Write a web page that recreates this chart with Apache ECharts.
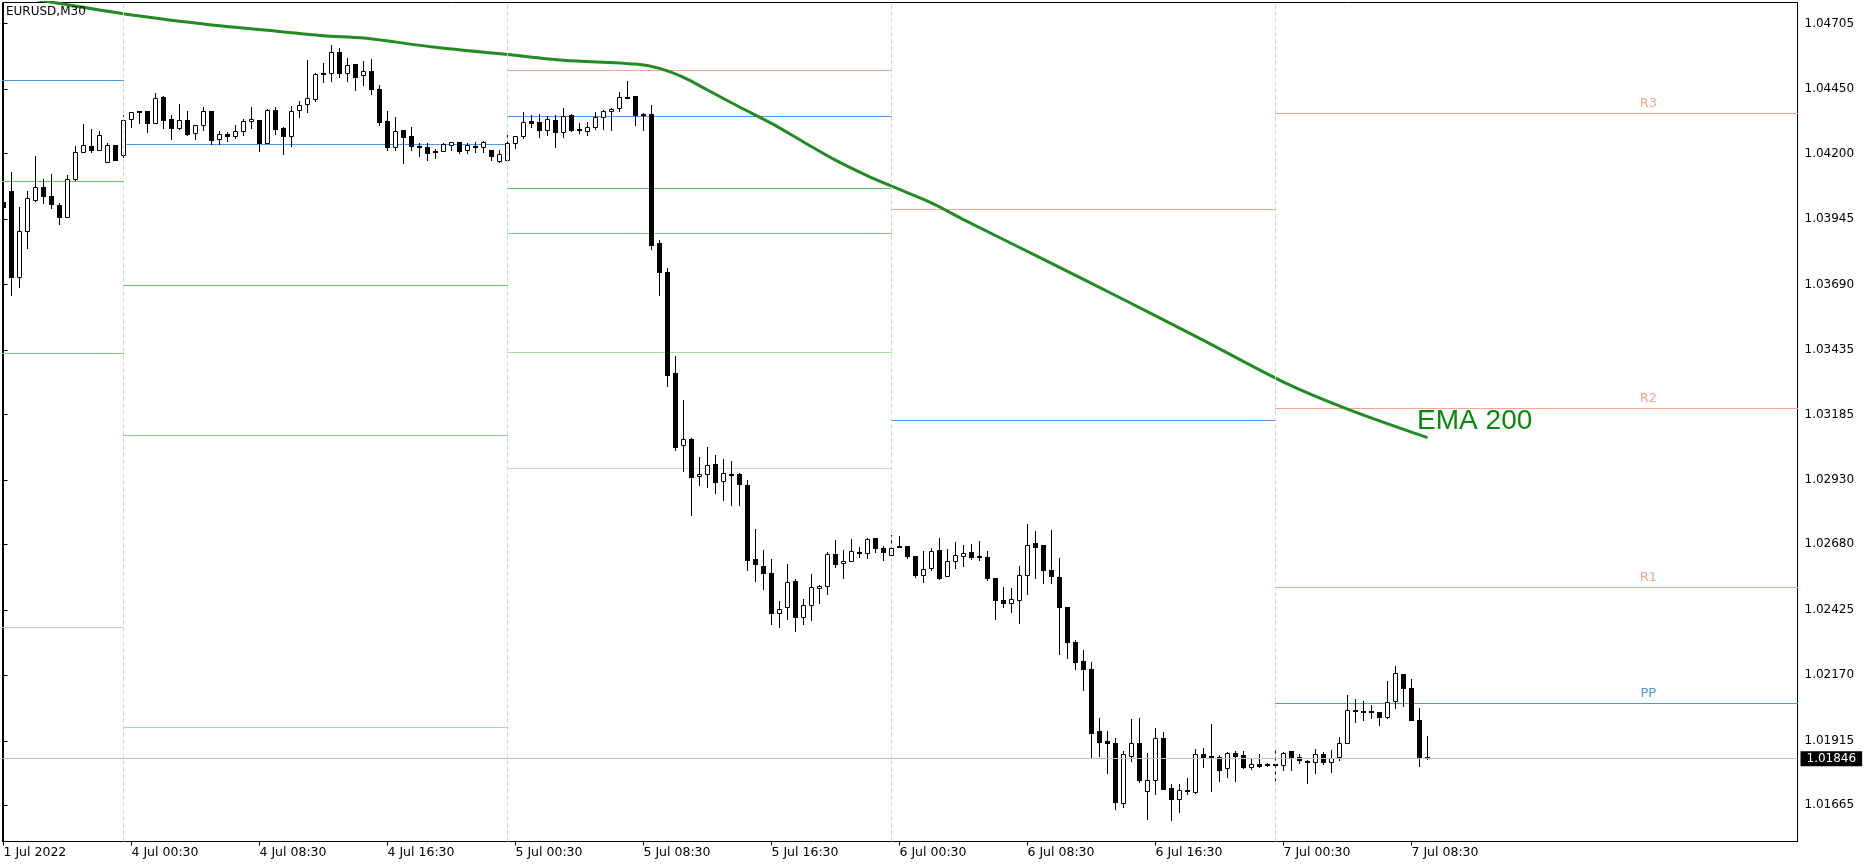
<!DOCTYPE html>
<html><head><meta charset="utf-8">
<script src="https://cdn.jsdelivr.net/npm/echarts@6/dist/echarts.min.js"></script>
<style>html,body{margin:0;padding:0;background:#fff;}#c{width:1870px;height:867px;}</style>
</head><body><div id="c"></div>
<script>
const symbolTitle = 'EURUSD,M30';
const axisTimeLabels = ['1 Jul 2022','4 Jul 00:30','4 Jul 08:30','4 Jul 16:30','5 Jul 00:30','5 Jul 08:30','5 Jul 16:30','6 Jul 00:30','6 Jul 08:30','6 Jul 16:30','7 Jul 00:30','7 Jul 08:30'];
const axisTimeBars = [0,16,32,48,64,80,96,112,128,144,160,176];
const priceTicks = [1.04705,1.04450,1.04200,1.03945,1.03690,1.03435,1.03185,1.02930,1.02680,1.02425,1.02170,1.01915,1.01665];

const openP = [1.04009,1.04052,1.03719,1.03895,1.04018,1.04067,1.04033,1.03998,1.03952,1.04098,
1.04205,1.04227,1.04211,1.04164,1.04230,1.04193,1.04331,1.04363,1.04363,1.04316,
1.04418,1.04332,1.04298,1.04328,1.04277,1.04308,1.04363,1.04253,1.04274,1.04267,
1.04284,1.04323,1.04327,1.04240,1.04367,1.04297,1.04267,1.04366,1.04390,1.04411,
1.04510,1.04510,1.04592,1.04512,1.04545,1.04502,1.04518,1.04448,1.04323,1.04222,
1.04288,1.04266,1.04228,1.04223,1.04207,1.04207,1.04230,1.04242,1.04211,1.04227,
1.04222,1.04211,1.04170,1.04174,1.04240,1.04265,1.04323,1.04320,1.04288,1.04327,
1.04281,1.04348,1.04293,1.04284,1.04300,1.04339,1.04362,1.04374,1.04417,1.04421,
1.04352,1.04352,1.03849,1.03736,1.03344,1.03063,1.03086,1.02942,1.02950,1.02989,
1.02923,1.02950,1.02950,1.02907,1.02620,1.02592,1.02565,1.02410,1.02433,1.02534,
1.02396,1.02441,1.02507,1.02515,1.02640,1.02604,1.02612,1.02647,1.02643,1.02701,
1.02662,1.02635,1.02671,1.02670,1.02631,1.02557,1.02585,1.02655,1.02553,1.02612,
1.02631,1.02647,1.02631,1.02627,1.02546,1.02460,1.02448,1.02460,1.02557,1.02682,
1.02674,1.02577,1.02550,1.02433,1.02297,1.02223,1.02193,1.01950,1.01913,1.01904,
1.01673,1.01856,1.01904,1.01717,1.01760,1.01923,1.01729,1.01688,1.01721,1.01715,
1.01861,1.01853,1.01850,1.01807,1.01865,1.01857,1.01813,1.01822,1.01822,1.01822,
1.01818,1.01873,1.01849,1.01834,1.01830,1.01861,1.01830,1.01849,1.01904,1.02032,
1.02029,1.02029,1.02024,1.02005,1.02067,1.02172,1.02118,1.01993,1.01849];
const highP = [1.04088,1.04126,1.03990,1.04052,1.04188,1.04099,1.04118,1.04006,1.04113,1.04227,
1.04313,1.04295,1.04287,1.04239,1.04230,1.04347,1.04358,1.04363,1.04363,1.04433,
1.04422,1.04348,1.04390,1.04363,1.04308,1.04378,1.04363,1.04286,1.04283,1.04308,
1.04332,1.04378,1.04327,1.04371,1.04378,1.04301,1.04383,1.04401,1.04562,1.04512,
1.04551,1.04620,1.04609,1.04570,1.04545,1.04558,1.04566,1.04465,1.04363,1.04340,
1.04288,1.04301,1.04238,1.04238,1.04217,1.04239,1.04242,1.04242,1.04238,1.04244,
1.04248,1.04211,1.04211,1.04269,1.04265,1.04360,1.04348,1.04351,1.04343,1.04348,
1.04375,1.04351,1.04316,1.04320,1.04358,1.04367,1.04374,1.04436,1.04480,1.04421,
1.04355,1.04387,1.03862,1.03752,1.03410,1.03239,1.03090,1.03016,1.03055,1.03024,
1.03009,1.03001,1.02954,1.02927,1.02736,1.02655,1.02620,1.02456,1.02600,1.02542,
1.02465,1.02562,1.02518,1.02647,1.02693,1.02655,1.02697,1.02666,1.02701,1.02701,
1.02670,1.02713,1.02709,1.02670,1.02631,1.02651,1.02662,1.02701,1.02658,1.02686,
1.02674,1.02678,1.02690,1.02651,1.02546,1.02511,1.02507,1.02592,1.02756,1.02728,
1.02674,1.02732,1.02623,1.02433,1.02304,1.02267,1.02220,1.02001,1.01952,1.01923,
1.01874,1.01999,1.02001,1.01865,1.01962,1.01947,1.01744,1.01744,1.01768,1.01880,
1.01884,1.01978,1.01859,1.01869,1.01873,1.01873,1.01845,1.01861,1.01826,1.01877,
1.01869,1.01873,1.01861,1.01838,1.01880,1.01869,1.01877,1.01927,1.02091,1.02075,
1.02068,1.02052,1.02024,1.02145,1.02203,1.02172,1.02153,1.02040,1.01931];
const lowP = [1.03950,1.03649,1.03678,1.03829,1.04015,1.04004,1.03987,1.03923,1.03952,1.04095,
1.04205,1.04204,1.04211,1.04164,1.04174,1.04183,1.04302,1.04318,1.04283,1.04316,
1.04298,1.04256,1.04295,1.04271,1.04256,1.04291,1.04235,1.04235,1.04248,1.04257,
1.04271,1.04296,1.04209,1.04240,1.04275,1.04197,1.04228,1.04341,1.04361,1.04404,
1.04476,1.04481,1.04497,1.04481,1.04446,1.04466,1.04431,1.04310,1.04213,1.04213,
1.04162,1.04213,1.04190,1.04174,1.04182,1.04207,1.04213,1.04201,1.04201,1.04205,
1.04205,1.04174,1.04166,1.04170,1.04221,1.04257,1.04300,1.04263,1.04271,1.04225,
1.04263,1.04287,1.04277,1.04269,1.04292,1.04295,1.04291,1.04362,1.04413,1.04310,
1.04288,1.03825,1.03648,1.03295,1.03045,1.02964,1.02793,1.02910,1.02902,1.02879,
1.02851,1.02832,1.02832,1.02579,1.02536,1.02505,1.02369,1.02357,1.02389,1.02342,
1.02369,1.02385,1.02451,1.02486,1.02591,1.02548,1.02612,1.02627,1.02626,1.02647,
1.02618,1.02635,1.02666,1.02623,1.02550,1.02530,1.02577,1.02542,1.02553,1.02585,
1.02592,1.02620,1.02616,1.02538,1.02386,1.02435,1.02416,1.02373,1.02486,1.02548,
1.02526,1.02526,1.02252,1.02237,1.02194,1.02111,1.01848,1.01854,1.01789,1.01649,
1.01657,1.01836,1.01754,1.01611,1.01708,1.01727,1.01605,1.01637,1.01708,1.01712,
1.01813,1.01719,1.01758,1.01774,1.01758,1.01807,1.01805,1.01813,1.01817,1.01762,
1.01801,1.01801,1.01826,1.01750,1.01789,1.01822,1.01793,1.01838,1.01904,1.01986,
1.01993,1.02001,1.01974,1.02001,1.02040,1.02050,1.01993,1.01814,1.01842];
const closeP = [1.03989,1.03719,1.03897,1.04024,1.04067,1.04034,1.04003,1.03952,1.04098,1.04203,
1.04230,1.04212,1.04269,1.04230,1.04174,1.04327,1.04358,1.04358,1.04316,1.04413,
1.04330,1.04298,1.04328,1.04274,1.04308,1.04363,1.04252,1.04274,1.04267,1.04284,
1.04323,1.04332,1.04240,1.04367,1.04295,1.04267,1.04363,1.04386,1.04413,1.04507,
1.04507,1.04592,1.04512,1.04541,1.04497,1.04518,1.04450,1.04322,1.04225,1.04284,
1.04263,1.04228,1.04225,1.04201,1.04203,1.04234,1.04242,1.04209,1.04230,1.04222,
1.04244,1.04187,1.04197,1.04240,1.04265,1.04320,1.04318,1.04288,1.04331,1.04281,
1.04343,1.04291,1.04290,1.04300,1.04339,1.04363,1.04370,1.04417,1.04414,1.04349,
1.04347,1.03842,1.03738,1.03338,1.03058,1.03086,1.02941,1.02950,1.02985,1.02921,
1.02954,1.02947,1.02911,1.02618,1.02602,1.02567,1.02412,1.02427,1.02530,1.02396,
1.02441,1.02511,1.02515,1.02639,1.02602,1.02612,1.02651,1.02643,1.02697,1.02662,
1.02647,1.02662,1.02666,1.02631,1.02557,1.02581,1.02651,1.02548,1.02612,1.02635,
1.02643,1.02627,1.02627,1.02548,1.02460,1.02448,1.02464,1.02557,1.02674,1.02666,
1.02579,1.02553,1.02435,1.02299,1.02221,1.02194,1.01943,1.01910,1.01906,1.01677,
1.01861,1.01904,1.01762,1.01762,1.01923,1.01727,1.01688,1.01721,1.01717,1.01861,
1.01848,1.01845,1.01801,1.01865,1.01856,1.01813,1.01822,1.01817,1.01819,1.01818,
1.01865,1.01845,1.01838,1.01830,1.01861,1.01830,1.01845,1.01904,1.02032,1.02028,
1.02027,1.02024,1.02005,1.02063,1.02176,1.02118,1.01993,1.01845,1.01846];

const daySeparatorBars = [15,63,111,159];
const pivotStartBar = [-1,15,63,111,159];
const pivotEndBar   = [15,63,111,159,240];
const pivotR3 = [null,null,null,null,1.04355];
const pivotR2 = [null,null,null,null,1.03207];
const pivotR1 = [null,null,1.04522,1.03981,1.02511];
const pivotPP = [1.04484,1.04234,1.04343,1.03160,1.02059];
const pivotS1 = [1.04090,1.03685,1.04063,null,null];
const pivotS2 = [1.03422,1.03102,1.03888,null,null];
const pivotS3 = [1.02357,1.01966,1.03426,null,null];
const pivotS4 = [null,null,1.02974,null,null];
const pivotLabelBar = 205.6;

const emaBars   = [0,15,25,33,40,45,54,63,70,79,82,85,88,92,96,100,104,108,111,116,120,130,140,150,160,168,178];
const emaValues = [1.04820,1.04744,1.04704,1.04679,1.04658,1.04649,1.04613,1.04585,1.04563,1.04548,1.04531,1.04496,1.04447,1.04381,1.04317,1.04245,1.04174,1.04113,1.04073,1.04008,1.03943,1.03788,1.03632,1.03473,1.03311,1.03206,1.03095];
const emaText = 'EMA 200';
const emaTextBar = 176.7;
const emaTextPrice = 1.03157;

const candleData = openP.map((o, i) => [i, o, highP[i], lowP[i], closeP[i]]);
const levelSets = [
  {vals: pivotR3, name: 'R3', color: '#f5a691'},
  {vals: pivotR2, name: 'R2', color: '#f5a691'},
  {vals: pivotR1, name: 'R1', color: '#f5a691'},
  {vals: pivotPP, name: 'PP', color: '#4f97e3'},
  {vals: pivotS1, name: 'S1', color: '#63c463'},
  {vals: pivotS2, name: 'S2', color: '#80cc80'},
  {vals: pivotS3, name: 'S3', color: '#a6dca6'},
  {vals: pivotS4, name: 'S4', color: '#bfe6bf'}
];
const pivotData = [];
levelSets.forEach((ls, k) => {
  ls.vals.forEach((v, d) => {
    if (v != null) pivotData.push([pivotStartBar[d], pivotEndBar[d], v, k, d === pivotPP.length - 1 ? 1 : 0]);
  });
});
const lastClose = closeP[closeP.length - 1];
const FONT = 'DejaVu Sans';

const chart = echarts.init(document.getElementById('c'), null, {renderer: 'canvas'});
chart.setOption({
  animation: false,
  backgroundColor: '#ffffff',
  title: {text: symbolTitle, left: 6, top: 6, padding: 0,
    textStyle: {fontFamily: FONT, fontSize: 12, fontWeight: 'normal', color: '#000'}},
  grid: {left: 2.5, top: 2.5, width: 1795, height: 839, show: true, borderColor: '#000', borderWidth: 1, backgroundColor: '#fff'},
  xAxis: {
    type: 'value', min: -0.125, max: 224.25,
    splitLine: {show: false},
    axisLine: {show: true, lineStyle: {color: '#000', width: 1}},
    axisTick: {show: true, customValues: axisTimeBars, length: 4, lineStyle: {color: '#000'}},
    axisLabel: {show: true, customValues: axisTimeBars, align: 'left', margin: 5,
      fontFamily: FONT, fontSize: 12.5, color: '#000',
      formatter: v => axisTimeLabels[axisTimeBars.indexOf(Math.round(v))] || ''}
  },
  yAxis: {
    type: 'value', position: 'right', min: 1.015237, max: 1.047874, scale: true,
    splitLine: {show: false},
    axisLine: {show: true, lineStyle: {color: '#000', width: 1}},
    axisTick: {show: true, customValues: priceTicks, length: 4, lineStyle: {color: '#000'}},
    axisLabel: {show: true, customValues: priceTicks, margin: 7, fontFamily: FONT, fontSize: 12, color: '#000',
      formatter: v => v.toFixed(5)}
  },
  series: [
    {
      name: 'guides', type: 'line', data: [], z: 1, silent: true,
      markLine: {
        silent: true, symbol: ['none', 'none'], animation: false, precision: 5,
        data: daySeparatorBars.map(b => ({xAxis: b, lineStyle: {color: '#d2d2d2', type: [4, 3], width: 1}, label: {show: false}}))
          .concat([{yAxis: lastClose, lineStyle: {color: '#c0c0c0', type: 'solid', width: 1},
            label: {show: true, position: 'end', distance: 3, formatter: lastClose.toFixed(5),
              backgroundColor: '#000', color: '#fff', fontFamily: FONT, fontSize: 12, padding: [2, 6, 1, 6]}}])
      }
    },
    {
      name: 'pivots', type: 'custom', z: 2, clip: true, silent: true,
      data: pivotData,
      encode: {x: [0, 1], y: 2},
      renderItem: function (params, api) {
        const s = api.value(0), e = api.value(1), v = api.value(2), k = api.value(3), lab = api.value(4);
        const p1 = api.coord([s, v]), p2 = api.coord([e, v]);
        const y = Math.floor(p1[1]) + 0.5;
        const ls = levelSets[k];
        const children = [{type: 'line', shape: {x1: Math.floor(p1[0]), y1: y, x2: Math.floor(p2[0]) + 1, y2: y},
          style: {stroke: ls.color, lineWidth: 1}}];
        if (lab) {
          const px = api.coord([pivotLabelBar, v])[0];
          children.push({type: 'text', style: {text: ls.name, x: px, y: y - 3, align: 'center', verticalAlign: 'bottom',
            fill: ls.color, font: '13px "DejaVu Sans"'}});
        }
        return {type: 'group', children};
      }
    },
    {
      name: 'candles', type: 'custom', z: 3, clip: true, silent: true,
      data: candleData,
      encode: {x: 0, y: [1, 2, 3, 4]},
      renderItem: function (params, api) {
        const i = api.value(0), o = api.value(1), h = api.value(2), l = api.value(3), c = api.value(4);
        const row = v => Math.floor(api.coord([i, v])[1]);
        const x = Math.floor(api.coord([i, o])[0]) + 0.5;
        const rO = row(o), rH = row(h), rL = row(l), rC = row(c);
        const ch = [{type: 'line', shape: {x1: x, y1: rH, x2: x, y2: rL + 1}, style: {stroke: '#000', lineWidth: 1}}];
        if (c < o) {
          ch.push({type: 'rect', shape: {x: x - 2.5, y: rO, width: 5, height: rC - rO + 1}, style: {fill: '#000'}});
        } else {
          const t = Math.min(rO, rC), b = Math.max(rO, rC);
          ch.push({type: 'rect', shape: {x: x - 2, y: t + 0.5, width: 4, height: b - t}, style: {fill: '#fff', stroke: '#000', lineWidth: 1}});
        }
        return {type: 'group', children: ch};
      }
    },
    {
      name: 'EMA 200', type: 'line', z: 4, silent: true, clip: true,
      data: emaBars.map((b, k) => [b, emaValues[k]]),
      showSymbol: false, smooth: 0.3,
      lineStyle: {color: '#228b22', width: 3}
    },
    {
      name: 'emaLabel', type: 'custom', z: 5, silent: true,
      data: [[emaTextBar, emaTextPrice]],
      renderItem: function (params, api) {
        const p = api.coord([api.value(0), api.value(1)]);
        return {type: 'text', style: {text: emaText, x: p[0], y: p[1], align: 'left', verticalAlign: 'middle',
          fill: '#058a05', font: '28px "Liberation Sans"'}};
      }
    }
  ]
});
</script>
</body></html>
